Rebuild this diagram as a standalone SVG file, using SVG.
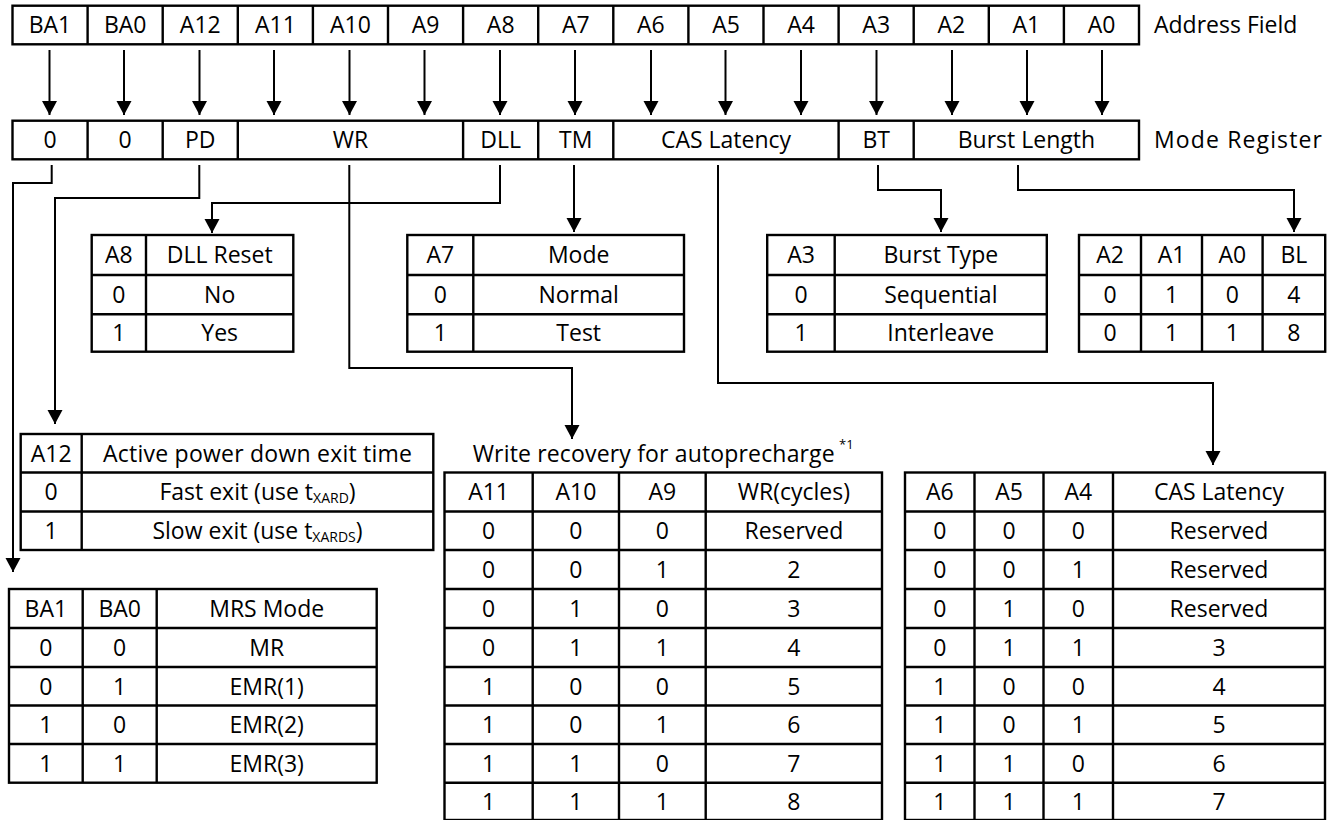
<svg xmlns="http://www.w3.org/2000/svg" width="1333" height="820" viewBox="0 0 1333 820">
<style>
.b{fill:none;stroke:#000;stroke-width:2.4}
.l{stroke:#000;stroke-width:2.4}
.c{fill:none;stroke:#000;stroke-width:2;marker-end:url(#ah)}
text{font-family:"Open Sans","Noto Sans",sans-serif;font-size:23px;fill:#000;text-anchor:middle}
.s{text-anchor:start}
</style>
<defs>
<marker id="ah" markerUnits="userSpaceOnUse" markerWidth="16" markerHeight="16" refX="14" refY="7.5" orient="auto"><path d="M0,0 L14,7.5 L0,15 Z" fill="#000"/></marker>
</defs>
<rect width="1333" height="820" fill="#fff"/>

<g id="address-field">
<rect class="b" x="12.5" y="5.7" width="1126.5" height="38.6"/>
<path class="l" d="M87.6,5.7V44.3M162.7,5.7V44.3M237.8,5.7V44.3M312.9,5.7V44.3M388,5.7V44.3M463.1,5.7V44.3M538.2,5.7V44.3M613.3,5.7V44.3M688.4,5.7V44.3M763.5,5.7V44.3M838.6,5.7V44.3M913.7,5.7V44.3M988.8,5.7V44.3M1063.9,5.7V44.3"/>
<text x="50" y="33.2">BA1</text><text x="125.2" y="33.2">BA0</text><text x="200.3" y="33.2">A12</text><text x="275.4" y="33.2">A11</text><text x="350.5" y="33.2">A10</text><text x="425.6" y="33.2">A9</text><text x="500.7" y="33.2">A8</text><text x="575.8" y="33.2">A7</text><text x="650.9" y="33.2">A6</text><text x="726" y="33.2">A5</text><text x="801.1" y="33.2">A4</text><text x="876.2" y="33.2">A3</text><text x="951.3" y="33.2">A2</text><text x="1026.4" y="33.2">A1</text><text x="1101.5" y="33.2">A0</text>
<text class="s" x="1154" y="33.2">Address Field</text>
</g>

<g id="mode-register">
<rect class="b" x="12.5" y="120.7" width="1126.5" height="38.6"/>
<path class="l" d="M87.6,120.7V159.3M162.7,120.7V159.3M237.8,120.7V159.3M463.1,120.7V159.3M538.2,120.7V159.3M613.3,120.7V159.3M838.6,120.7V159.3M913.7,120.7V159.3"/>
<text x="50" y="148.2">0</text><text x="125.2" y="148.2">0</text><text x="200.3" y="148.2">PD</text><text x="350.5" y="148.2">WR</text><text x="500.7" y="148.2">DLL</text><text x="575.8" y="148.2">TM</text><text x="726" y="148.2">CAS Latency</text><text x="876.2" y="148.2">BT</text><text x="1026.4" y="148.2">Burst Length</text>
<text class="s" x="1154" y="148.2" textLength="168">Mode Register</text>
</g>

<g id="connectors">
<path class="c" d="M49.5,50V115"/><path class="c" d="M124,50V115"/><path class="c" d="M199.5,50V115"/><path class="c" d="M274,50V115"/><path class="c" d="M349.5,50V115"/><path class="c" d="M424.5,50V115"/><path class="c" d="M500,50V115"/><path class="c" d="M575,50V115"/><path class="c" d="M651,50V115"/><path class="c" d="M725.5,50V115"/><path class="c" d="M801,50V115"/><path class="c" d="M876.5,50V115"/><path class="c" d="M952,50V115"/><path class="c" d="M1027,50V115"/><path class="c" d="M1102,50V115"/>
<path class="c" d="M51.7,165V183H13V572"/>
<path class="c" d="M199.3,165V198H55V424"/>
<path class="c" d="M349.3,165V368H572V439"/>
<path class="c" d="M500,165V203H212V233"/>
<path class="c" d="M574,165V232"/>
<path class="c" d="M718,165V383H1213V465"/>
<path class="c" d="M878,165V190H941V232"/>
<path class="c" d="M1018,165V190H1294V232"/>
</g>

<g id="dll-table">
<rect class="b" x="91.7" y="235" width="201.6" height="116.7"/>
<path class="l" d="M146,235V351.7M91.7,275H293.3M91.7,314.3H293.3"/>
<text x="118.9" y="263.2">A8</text><text x="219.7" y="263.2">DLL Reset</text>
<text x="118.9" y="302.9">0</text><text x="219.7" y="302.9">No</text>
<text x="118.9" y="341.2">1</text><text x="219.7" y="341.2">Yes</text>
</g>

<g id="tm-table">
<rect class="b" x="407.3" y="235" width="276.7" height="116.7"/>
<path class="l" d="M473.3,235V351.7M407.3,275H684M407.3,314.3H684"/>
<text x="440.3" y="263.2">A7</text><text x="578.7" y="263.2">Mode</text>
<text x="440.3" y="302.9">0</text><text x="578.7" y="302.9">Normal</text>
<text x="440.3" y="341.2">1</text><text x="578.7" y="341.2">Test</text>
</g>

<g id="bt-table">
<rect class="b" x="767.2" y="235" width="279.6" height="116.7"/>
<path class="l" d="M834.7,235V351.7M767.2,275H1046.8M767.2,314.3H1046.8"/>
<text x="801" y="263.2">A3</text><text x="940.8" y="263.2">Burst Type</text>
<text x="801" y="302.9">0</text><text x="940.8" y="302.9">Sequential</text>
<text x="801" y="341.2">1</text><text x="940.8" y="341.2">Interleave</text>
</g>

<g id="bl-table">
<rect class="b" x="1079" y="235" width="246.2" height="116.7"/>
<path class="l" d="M1141,235V351.7M1202,235V351.7M1262.6,235V351.7M1079,275H1325.2M1079,314.3H1325.2"/>
<text x="1110" y="263.2">A2</text><text x="1171.5" y="263.2">A1</text><text x="1232.3" y="263.2">A0</text><text x="1293.9" y="263.2">BL</text>
<text x="1110" y="302.9">0</text><text x="1171.5" y="302.9">1</text><text x="1232.3" y="302.9">0</text><text x="1293.9" y="302.9">4</text>
<text x="1110" y="341.2">0</text><text x="1171.5" y="341.2">1</text><text x="1232.3" y="341.2">1</text><text x="1293.9" y="341.2">8</text>
</g>

<g id="pd-table">
<rect class="b" x="20.7" y="434" width="412.6" height="116"/>
<path class="l" d="M81.7,434V550M20.7,472.5H433.3M20.7,511.5H433.3"/>
<text x="51.2" y="461.5">A12</text><text x="257.5" y="461.5" textLength="309">Active power down exit time</text>
<text x="51.2" y="500.2">0</text><text x="257.5" y="500.2">Fast exit (use t<tspan font-size="14" dy="3">XARD</tspan><tspan dy="-3">)</tspan></text>
<text x="51.2" y="539">1</text><text x="257.5" y="539">Slow exit (use t<tspan font-size="14" dy="3">XARDS</tspan><tspan dy="-3">)</tspan></text>
</g>

<g id="mrs-table">
<rect class="b" x="9" y="589" width="367.7" height="193.7"/>
<path class="l" d="M82.7,589V782.7M156.7,589V782.7M9,628H376.7M9,667H376.7M9,705.5H376.7M9,744H376.7"/>
<text x="45.9" y="616.7">BA1</text><text x="119.7" y="616.7">BA0</text><text x="266.7" y="616.7">MRS Mode</text>
<text x="45.9" y="655.7">0</text><text x="119.7" y="655.7">0</text><text x="266.7" y="655.7">MR</text>
<text x="45.9" y="694.5">0</text><text x="119.7" y="694.5">1</text><text x="266.7" y="694.5">EMR(1)</text>
<text x="45.9" y="733">1</text><text x="119.7" y="733">0</text><text x="266.7" y="733">EMR(2)</text>
<text x="45.9" y="771.6">1</text><text x="119.7" y="771.6">1</text><text x="266.7" y="771.6">EMR(3)</text>
</g>

<g id="wr-table">
<text class="s" x="472.7" y="461.7" textLength="362">Write recovery for autoprecharge</text>
<text class="s" x="839" y="449" style="font-size:13px">*1</text>
<rect class="b" x="444.5" y="472.5" width="437.5" height="347.5"/>
<path class="l" d="M532.7,472.5V820M619,472.5V820M705.7,472.5V820M444.5,511.5H882M444.5,550H882M444.5,589H882M444.5,628H882M444.5,667H882M444.5,705.5H882M444.5,744H882M444.5,782.7H882"/>
<text x="488.6" y="500.2">A11</text><text x="575.9" y="500.2">A10</text><text x="662.4" y="500.2">A9</text><text x="793.9" y="500.2">WR(cycles)</text>
<text x="488.6" y="539">0</text><text x="575.9" y="539">0</text><text x="662.4" y="539">0</text><text x="793.9" y="539">Reserved</text>
<text x="488.6" y="577.7">0</text><text x="575.9" y="577.7">0</text><text x="662.4" y="577.7">1</text><text x="793.9" y="577.7">2</text>
<text x="488.6" y="616.7">0</text><text x="575.9" y="616.7">1</text><text x="662.4" y="616.7">0</text><text x="793.9" y="616.7">3</text>
<text x="488.6" y="655.7">0</text><text x="575.9" y="655.7">1</text><text x="662.4" y="655.7">1</text><text x="793.9" y="655.7">4</text>
<text x="488.6" y="694.5">1</text><text x="575.9" y="694.5">0</text><text x="662.4" y="694.5">0</text><text x="793.9" y="694.5">5</text>
<text x="488.6" y="733">1</text><text x="575.9" y="733">0</text><text x="662.4" y="733">1</text><text x="793.9" y="733">6</text>
<text x="488.6" y="771.6">1</text><text x="575.9" y="771.6">1</text><text x="662.4" y="771.6">0</text><text x="793.9" y="771.6">7</text>
<text x="488.6" y="809.6">1</text><text x="575.9" y="809.6">1</text><text x="662.4" y="809.6">1</text><text x="793.9" y="809.6">8</text>
</g>

<g id="cas-table">
<rect class="b" x="905" y="472.5" width="420" height="347.5"/>
<path class="l" d="M974.5,472.5V820M1043.5,472.5V820M1113,472.5V820M905,511.5H1325M905,550H1325M905,589H1325M905,628H1325M905,667H1325M905,705.5H1325M905,744H1325M905,782.7H1325"/>
<text x="939.8" y="500.2">A6</text><text x="1009" y="500.2">A5</text><text x="1078.3" y="500.2">A4</text><text x="1219" y="500.2">CAS Latency</text>
<text x="939.8" y="539">0</text><text x="1009" y="539">0</text><text x="1078.3" y="539">0</text><text x="1219" y="539">Reserved</text>
<text x="939.8" y="577.7">0</text><text x="1009" y="577.7">0</text><text x="1078.3" y="577.7">1</text><text x="1219" y="577.7">Reserved</text>
<text x="939.8" y="616.7">0</text><text x="1009" y="616.7">1</text><text x="1078.3" y="616.7">0</text><text x="1219" y="616.7">Reserved</text>
<text x="939.8" y="655.7">0</text><text x="1009" y="655.7">1</text><text x="1078.3" y="655.7">1</text><text x="1219" y="655.7">3</text>
<text x="939.8" y="694.5">1</text><text x="1009" y="694.5">0</text><text x="1078.3" y="694.5">0</text><text x="1219" y="694.5">4</text>
<text x="939.8" y="733">1</text><text x="1009" y="733">0</text><text x="1078.3" y="733">1</text><text x="1219" y="733">5</text>
<text x="939.8" y="771.6">1</text><text x="1009" y="771.6">1</text><text x="1078.3" y="771.6">0</text><text x="1219" y="771.6">6</text>
<text x="939.8" y="809.6">1</text><text x="1009" y="809.6">1</text><text x="1078.3" y="809.6">1</text><text x="1219" y="809.6">7</text>
</g>
</svg>
